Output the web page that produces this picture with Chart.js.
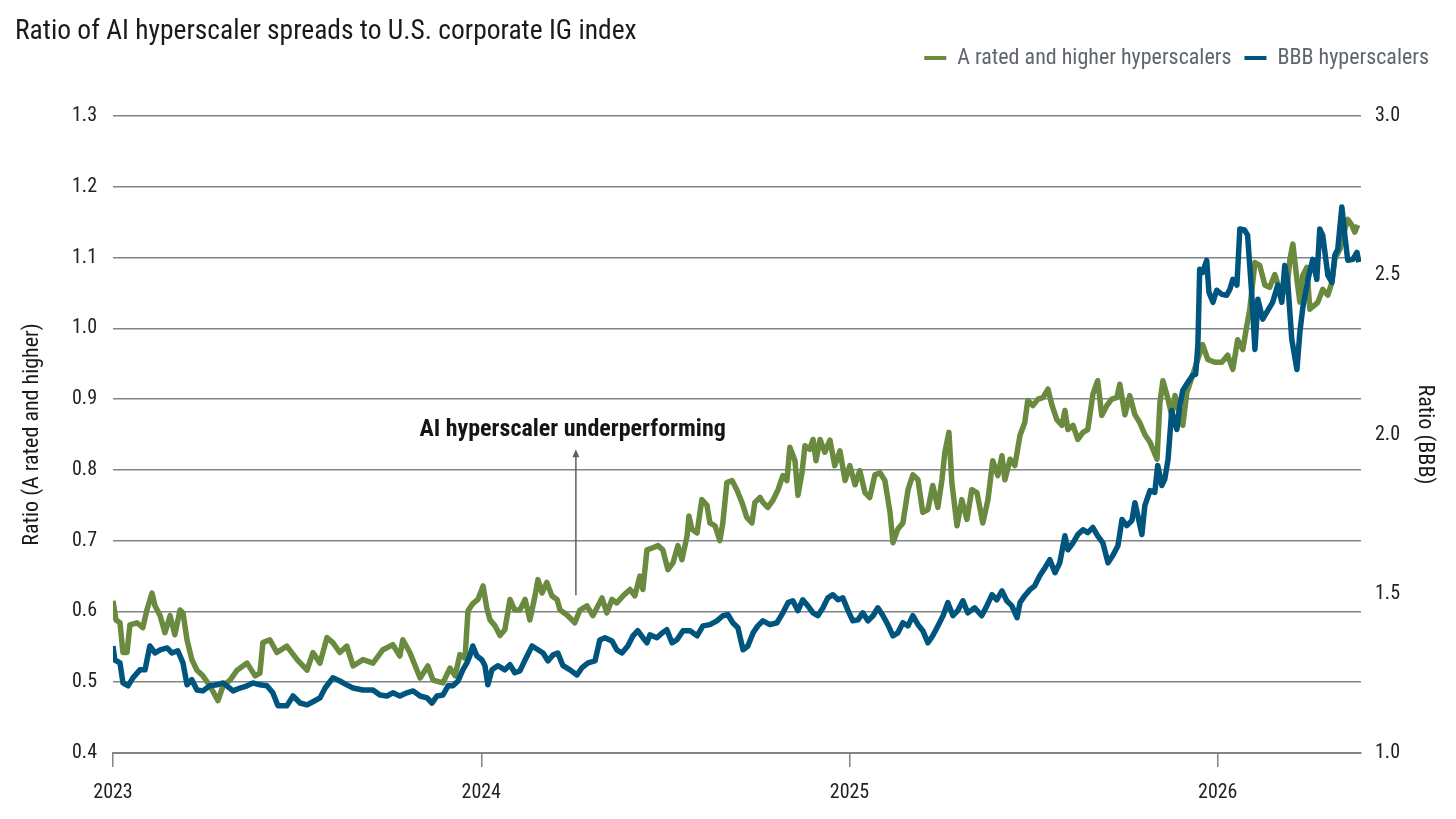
<!DOCTYPE html>
<html>
<head>
<meta charset="utf-8">
<script src="https://cdn.jsdelivr.net/npm/chart.js@4.4.1/dist/chart.umd.min.js"></script>
<style>
html, body { margin: 0; padding: 0; background: #fff; }
#wrap { width: 1456px; height: 819px; }
</style>
</head>
<body>
<div id="wrap"><canvas id="chart" width="1456" height="819"></canvas></div>
<script>
// chart text
var chartTitle = 'Ratio of AI hyperscaler spreads to U.S. corporate IG index';
var seriesNames = ['A rated and higher hyperscalers', 'BBB hyperscalers'];
var leftAxisTitle = 'Ratio (A rated and higher)';
var rightAxisTitle = 'Ratio (BBB)';
var yearTicks = [2023, 2024, 2025, 2026];

// A rated and higher (left axis) - dates as fractional years
var greenDates = [
    2023.000, 2023.008, 2023.019, 2023.027, 2023.038, 2023.046, 2023.065, 2023.081, 2023.092, 2023.106,
    2023.114, 2023.128, 2023.141, 2023.155, 2023.168, 2023.182, 2023.190, 2023.201, 2023.214, 2023.228,
    2023.244, 2023.263, 2023.285, 2023.299, 2023.318, 2023.337, 2023.364, 2023.386, 2023.399, 2023.407,
    2023.426, 2023.445, 2023.472, 2023.500, 2023.527, 2023.543, 2023.562, 2023.581, 2023.597, 2023.616,
    2023.635, 2023.652, 2023.679, 2023.706, 2023.733, 2023.760, 2023.779, 2023.787, 2023.806, 2023.834,
    2023.855, 2023.869, 2023.896, 2023.915, 2023.929, 2023.942, 2023.956, 2023.964, 2023.977, 2023.991,
    2024.005, 2024.015, 2024.024, 2024.037, 2024.051, 2024.064, 2024.078, 2024.091, 2024.105, 2024.119,
    2024.132, 2024.146, 2024.154, 2024.165, 2024.178, 2024.192, 2024.206, 2024.214, 2024.233, 2024.254,
    2024.268, 2024.287, 2024.303, 2024.328, 2024.341, 2024.355, 2024.368, 2024.385, 2024.404, 2024.417,
    2024.431, 2024.439, 2024.450, 2024.466, 2024.480, 2024.493, 2024.507, 2024.521, 2024.534, 2024.545,
    2024.559, 2024.564, 2024.572, 2024.586, 2024.599, 2024.613, 2024.621, 2024.635, 2024.648, 2024.656,
    2024.667, 2024.681, 2024.694, 2024.708, 2024.721, 2024.735, 2024.743, 2024.757, 2024.765, 2024.778,
    2024.792, 2024.806, 2024.819, 2024.830, 2024.838, 2024.852, 2024.860, 2024.871, 2024.879, 2024.892,
    2024.901, 2024.909, 2024.920, 2024.933, 2024.947, 2024.960, 2024.974, 2024.988, 2025.001, 2025.015,
    2025.028, 2025.042, 2025.055, 2025.069, 2025.083, 2025.096, 2025.110, 2025.118, 2025.131, 2025.145,
    2025.159, 2025.172, 2025.186, 2025.199, 2025.213, 2025.226, 2025.240, 2025.251, 2025.259, 2025.270,
    2025.278, 2025.292, 2025.305, 2025.319, 2025.332, 2025.346, 2025.362, 2025.376, 2025.389, 2025.403,
    2025.414, 2025.422, 2025.436, 2025.449, 2025.463, 2025.476, 2025.484, 2025.498, 2025.512, 2025.525,
    2025.539, 2025.550, 2025.563, 2025.577, 2025.585, 2025.593, 2025.607, 2025.620, 2025.634, 2025.647,
    2025.661, 2025.674, 2025.685, 2025.699, 2025.712, 2025.726, 2025.734, 2025.748, 2025.761, 2025.775,
    2025.788, 2025.802, 2025.816, 2025.835, 2025.843, 2025.851, 2025.865, 2025.875, 2025.884, 2025.897,
    2025.905, 2025.916, 2025.930, 2025.943, 2025.959, 2025.973, 2025.992, 2026.011, 2026.027, 2026.041,
    2026.054, 2026.068, 2026.079, 2026.087, 2026.101, 2026.114, 2026.128, 2026.141, 2026.155, 2026.168,
    2026.187, 2026.196, 2026.204, 2026.215, 2026.223, 2026.231, 2026.242, 2026.250, 2026.264, 2026.272,
    2026.285, 2026.299, 2026.310, 2026.318, 2026.332, 2026.345, 2026.353, 2026.364, 2026.372, 2026.380
];
var greenValues = [
    0.615, 0.588, 0.584, 0.542, 0.542, 0.581, 0.584, 0.577, 0.602, 0.626,
    0.608, 0.594, 0.570, 0.594, 0.567, 0.602, 0.598, 0.560, 0.532, 0.517,
    0.509, 0.495, 0.474, 0.495, 0.503, 0.517, 0.527, 0.509, 0.513, 0.556,
    0.560, 0.542, 0.551, 0.532, 0.517, 0.542, 0.527, 0.563, 0.556, 0.542,
    0.551, 0.523, 0.532, 0.527, 0.546, 0.553, 0.537, 0.560, 0.542, 0.506,
    0.523, 0.503, 0.499, 0.520, 0.509, 0.539, 0.534, 0.601, 0.611, 0.617,
    0.636, 0.605, 0.588, 0.580, 0.566, 0.574, 0.617, 0.602, 0.602, 0.617,
    0.588, 0.622, 0.645, 0.626, 0.641, 0.622, 0.617, 0.602, 0.595, 0.584,
    0.602, 0.608, 0.594, 0.619, 0.598, 0.617, 0.612, 0.622, 0.631, 0.622,
    0.650, 0.631, 0.687, 0.690, 0.693, 0.687, 0.659, 0.669, 0.693, 0.673,
    0.707, 0.735, 0.716, 0.711, 0.758, 0.750, 0.725, 0.721, 0.700, 0.725,
    0.782, 0.785, 0.772, 0.754, 0.733, 0.725, 0.754, 0.761, 0.754, 0.747,
    0.757, 0.772, 0.792, 0.785, 0.832, 0.813, 0.764, 0.796, 0.834, 0.829,
    0.843, 0.813, 0.843, 0.825, 0.842, 0.806, 0.827, 0.785, 0.806, 0.779,
    0.799, 0.768, 0.761, 0.793, 0.796, 0.785, 0.740, 0.697, 0.716, 0.725,
    0.772, 0.793, 0.786, 0.740, 0.744, 0.778, 0.747, 0.786, 0.825, 0.853,
    0.782, 0.721, 0.758, 0.730, 0.772, 0.768, 0.725, 0.758, 0.813, 0.792,
    0.820, 0.786, 0.815, 0.806, 0.849, 0.867, 0.898, 0.891, 0.900, 0.902,
    0.914, 0.891, 0.871, 0.863, 0.884, 0.857, 0.863, 0.843, 0.853, 0.857,
    0.907, 0.926, 0.877, 0.891, 0.900, 0.902, 0.921, 0.878, 0.905, 0.878,
    0.867, 0.850, 0.839, 0.815, 0.895, 0.926, 0.900, 0.877, 0.905, 0.877,
    0.863, 0.909, 0.931, 0.952, 0.977, 0.956, 0.952, 0.952, 0.962, 0.942,
    0.984, 0.970, 1.004, 1.027, 1.093, 1.089, 1.061, 1.058, 1.076, 1.055,
    1.051, 1.098, 1.119, 1.069, 1.037, 1.075, 1.086, 1.027, 1.033, 1.037,
    1.055, 1.047, 1.065, 1.098, 1.112, 1.140, 1.154, 1.146, 1.136, 1.146
];

// BBB (right axis)
var blueDates = [
    2023.000, 2023.005, 2023.019, 2023.027, 2023.041, 2023.054, 2023.073, 2023.087, 2023.100, 2023.114,
    2023.128, 2023.147, 2023.160, 2023.176, 2023.190, 2023.201, 2023.214, 2023.228, 2023.244, 2023.263,
    2023.282, 2023.299, 2023.326, 2023.345, 2023.364, 2023.380, 2023.399, 2023.418, 2023.434, 2023.448,
    2023.472, 2023.489, 2023.508, 2023.527, 2023.548, 2023.562, 2023.576, 2023.597, 2023.616, 2023.635,
    2023.652, 2023.679, 2023.706, 2023.725, 2023.744, 2023.760, 2023.779, 2023.798, 2023.815, 2023.834,
    2023.853, 2023.866, 2023.880, 2023.896, 2023.910, 2023.923, 2023.937, 2023.950, 2023.961, 2023.969,
    2023.977, 2023.988, 2024.002, 2024.010, 2024.018, 2024.029, 2024.045, 2024.064, 2024.078, 2024.091,
    2024.105, 2024.119, 2024.138, 2024.154, 2024.168, 2024.181, 2024.195, 2024.208, 2024.222, 2024.241,
    2024.260, 2024.273, 2024.290, 2024.309, 2024.322, 2024.336, 2024.355, 2024.368, 2024.382, 2024.398,
    2024.412, 2024.425, 2024.439, 2024.450, 2024.458, 2024.477, 2024.491, 2024.504, 2024.518, 2024.531,
    2024.548, 2024.567, 2024.586, 2024.602, 2024.621, 2024.640, 2024.656, 2024.670, 2024.683, 2024.697,
    2024.711, 2024.724, 2024.738, 2024.751, 2024.765, 2024.784, 2024.803, 2024.819, 2024.833, 2024.846,
    2024.860, 2024.873, 2024.887, 2024.901, 2024.914, 2024.928, 2024.941, 2024.955, 2024.969, 2024.982,
    2024.996, 2025.009, 2025.023, 2025.036, 2025.050, 2025.064, 2025.077, 2025.091, 2025.104, 2025.118,
    2025.131, 2025.145, 2025.159, 2025.172, 2025.186, 2025.199, 2025.213, 2025.226, 2025.240, 2025.254,
    2025.267, 2025.281, 2025.294, 2025.308, 2025.321, 2025.340, 2025.359, 2025.373, 2025.387, 2025.400,
    2025.414, 2025.427, 2025.441, 2025.455, 2025.463, 2025.476, 2025.490, 2025.503, 2025.517, 2025.531,
    2025.544, 2025.558, 2025.571, 2025.585, 2025.593, 2025.607, 2025.620, 2025.634, 2025.647, 2025.661,
    2025.674, 2025.688, 2025.702, 2025.715, 2025.729, 2025.740, 2025.753, 2025.767, 2025.775, 2025.783,
    2025.794, 2025.802, 2025.816, 2025.829, 2025.837, 2025.848, 2025.856, 2025.865, 2025.875, 2025.889,
    2025.897, 2025.905, 2025.919, 2025.932, 2025.940, 2025.946, 2025.951, 2025.959, 2025.970, 2025.976,
    2025.987, 2025.997, 2026.011, 2026.024, 2026.033, 2026.041, 2026.052, 2026.060, 2026.073, 2026.081,
    2026.092, 2026.101, 2026.109, 2026.122, 2026.136, 2026.149, 2026.163, 2026.174, 2026.182, 2026.190,
    2026.201, 2026.215, 2026.223, 2026.231, 2026.245, 2026.258, 2026.269, 2026.277, 2026.285, 2026.299,
    2026.310, 2026.318, 2026.326, 2026.337, 2026.345, 2026.353, 2026.367, 2026.378, 2026.383
];
var blueValues = [
    1.336, 1.292, 1.283, 1.220, 1.211, 1.236, 1.261, 1.261, 1.336, 1.314,
    1.324, 1.330, 1.314, 1.321, 1.283, 1.214, 1.230, 1.198, 1.195, 1.211,
    1.214, 1.220, 1.195, 1.204, 1.211, 1.220, 1.214, 1.211, 1.189, 1.148,
    1.148, 1.179, 1.157, 1.151, 1.164, 1.173, 1.204, 1.236, 1.226, 1.214,
    1.204, 1.198, 1.198, 1.182, 1.179, 1.189, 1.179, 1.189, 1.195, 1.179,
    1.173, 1.157, 1.179, 1.182, 1.211, 1.211, 1.226, 1.261, 1.283, 1.305,
    1.336, 1.305, 1.292, 1.274, 1.214, 1.261, 1.274, 1.261, 1.277, 1.252,
    1.258, 1.292, 1.336, 1.324, 1.314, 1.289, 1.308, 1.314, 1.274, 1.261,
    1.245, 1.267, 1.283, 1.289, 1.355, 1.362, 1.352, 1.324, 1.314, 1.336,
    1.368, 1.384, 1.362, 1.346, 1.371, 1.362, 1.377, 1.387, 1.346, 1.355,
    1.384, 1.384, 1.368, 1.399, 1.403, 1.415, 1.431, 1.434, 1.409, 1.393,
    1.324, 1.336, 1.377, 1.399, 1.415, 1.403, 1.409, 1.440, 1.472, 1.478,
    1.447, 1.481, 1.462, 1.440, 1.431, 1.456, 1.487, 1.497, 1.481, 1.487,
    1.447, 1.415, 1.418, 1.440, 1.415, 1.431, 1.456, 1.431, 1.403, 1.368,
    1.377, 1.409, 1.399, 1.431, 1.403, 1.384, 1.346, 1.368, 1.399, 1.431,
    1.472, 1.431, 1.447, 1.478, 1.440, 1.456, 1.431, 1.462, 1.497, 1.481,
    1.509, 1.478, 1.462, 1.425, 1.472, 1.494, 1.513, 1.525, 1.557, 1.582,
    1.607, 1.566, 1.597, 1.682, 1.638, 1.660, 1.686, 1.701, 1.692, 1.708,
    1.682, 1.660, 1.597, 1.620, 1.651, 1.733, 1.714, 1.730, 1.786, 1.745,
    1.686, 1.777, 1.824, 1.818, 1.903, 1.840, 1.859, 1.921, 2.075, 2.016,
    2.091, 2.138, 2.164, 2.186, 2.189, 2.280, 2.519, 2.509, 2.547, 2.447,
    2.415, 2.453, 2.440, 2.437, 2.456, 2.487, 2.469, 2.645, 2.642, 2.626,
    2.447, 2.267, 2.425, 2.362, 2.390, 2.415, 2.469, 2.415, 2.531, 2.478,
    2.299, 2.204, 2.321, 2.399, 2.487, 2.550, 2.487, 2.645, 2.626, 2.500,
    2.478, 2.563, 2.582, 2.714, 2.626, 2.547, 2.550, 2.572, 2.541
];

// annotation (data units)
var noteText = 'AI hyperscaler underperforming';
var noteTextAt = { x: 2024.248, y: 0.857 };
var noteArrowX = 2024.257;
var noteArrowFrom = 0.623;
var noteArrowTo = 0.829;

var GREEN = '#6a8a40';
var BLUE = '#00557f';
var GRID = '#80848b';
var FONT = "'Liberation Sans Narrow', 'Roboto Condensed', Roboto, sans-serif";

Chart.defaults.font.family = FONT;

function toPoints(dates, values){
    var pts = [];
    for(var i = 0; i < Math.min(dates.length, values.length); i++){
        pts.push({x: dates[i], y: values[i]});
    }
    return pts;
}

var annotationPlugin = {
    id: 'underperformNote',
    afterDatasetsDraw: function(chart){
        var ctx = chart.ctx;
        var xs = chart.scales.x, ys = chart.scales.y;
        var ax = xs.getPixelForValue(noteArrowX);
        var y0 = ys.getPixelForValue(noteArrowFrom);
        var y1 = ys.getPixelForValue(noteArrowTo);
        ctx.save();
        ctx.strokeStyle = '#5b5f67';
        ctx.fillStyle = '#5b5f67';
        ctx.lineWidth = 1.5;
        ctx.beginPath();
        ctx.moveTo(ax, y0);
        ctx.lineTo(ax, y1 + 6);
        ctx.stroke();
        ctx.beginPath();
        ctx.moveTo(ax, y1);
        ctx.lineTo(ax - 3.5, y1 + 8);
        ctx.lineTo(ax + 3.5, y1 + 8);
        ctx.closePath();
        ctx.fill();
        ctx.font = 'bold 24px ' + FONT;
        ctx.fillStyle = '#151515';
        ctx.textAlign = 'center';
        ctx.textBaseline = 'middle';
        ctx.fillText(noteText, xs.getPixelForValue(noteTextAt.x), ys.getPixelForValue(noteTextAt.y));
        ctx.restore();
    }
};

var ctx = document.getElementById('chart').getContext('2d');
var chart = new Chart(ctx, {
    type: 'line',
    data: {
        datasets: [{
            label: seriesNames[0],
            data: toPoints(greenDates, greenValues),
            borderColor: GREEN,
            backgroundColor: GREEN,
            borderWidth: 5.5,
            pointRadius: 0,
            tension: 0,
            borderJoinStyle: 'round',
            yAxisID: 'y',
            order: 2
        },{
            label: seriesNames[1],
            data: toPoints(blueDates, blueValues),
            borderColor: BLUE,
            backgroundColor: BLUE,
            borderWidth: 5.5,
            pointRadius: 0,
            tension: 0,
            borderJoinStyle: 'round',
            yAxisID: 'y1',
            order: 1
        }]
    },
    options: {
        responsive: false,
        animation: false,
        events: [],
        layout: { padding: { left: 15, right: 14, top: 0, bottom: 0 } },
        plugins: {
            title: {
                display: true,
                text: chartTitle,
                align: 'start',
                color: '#1a1a1a',
                font: { size: 27.5, weight: 'normal' },
                padding: { top: 16, bottom: -15 }
            },
            legend: {
                display: true,
                align: 'end',
                labels: {
                    boxWidth: 22,
                    boxHeight: 4,
                    color: '#5f656d',
                    font: { size: 22 },
                    padding: 13,
                    sort: function(a, b){ return a.datasetIndex - b.datasetIndex; },
                    generateLabels: function(c){
                        var items = Chart.defaults.plugins.legend.labels.generateLabels(c);
                        items.forEach(function(it){ it.lineWidth = 0; });
                        return items;
                    }
                }
            },
            // empty row between the legend and the plot
            subtitle: {
                display: true,
                text: '',
                weight: 500,
                font: { size: 10 },
                padding: { top: 12, bottom: 13 }
            },
            tooltip: { enabled: false }
        },
        scales: {
            x: {
                type: 'linear',
                min: 2023,
                max: 2026.389,
                afterBuildTicks: function(s){
                    s.ticks = yearTicks.map(function(v){ return {value: v}; });
                },
                ticks: {
                    callback: function(v){ return String(v); },
                    color: '#222',
                    font: { size: 20 },
                    padding: 14,
                    maxRotation: 0
                },
                grid: { drawOnChartArea: false, drawTicks: true, tickLength: 14, color: GRID, lineWidth: 1.5 },
                border: { display: true, color: GRID, width: 2 }
            },
            y: {
                position: 'left',
                min: 0.4,
                max: 1.3,
                ticks: {
                    stepSize: 0.1,
                    callback: function(v){ return v.toFixed(1); },
                    color: '#222',
                    font: { size: 20 },
                    padding: 16
                },
                grid: { color: GRID, lineWidth: 1.5, drawTicks: false },
                border: { display: false },
                title: { display: true, text: leftAxisTitle, color: '#1a1a1a', font: { size: 22 } },
                afterFit: function(s){ s.width = 98; }
            },
            y1: {
                position: 'right',
                min: 1.0,
                max: 3.0,
                ticks: {
                    stepSize: 0.5,
                    callback: function(v){ return v.toFixed(1); },
                    color: '#222',
                    font: { size: 20 },
                    padding: 14
                },
                grid: { drawOnChartArea: false, drawTicks: false },
                border: { display: false },
                title: { display: true, text: rightAxisTitle, color: '#1a1a1a', font: { size: 22 } },
                afterFit: function(s){ s.width = 81; }
            }
        }
    },
    plugins: [annotationPlugin]
});
</script>
</body>
</html>
